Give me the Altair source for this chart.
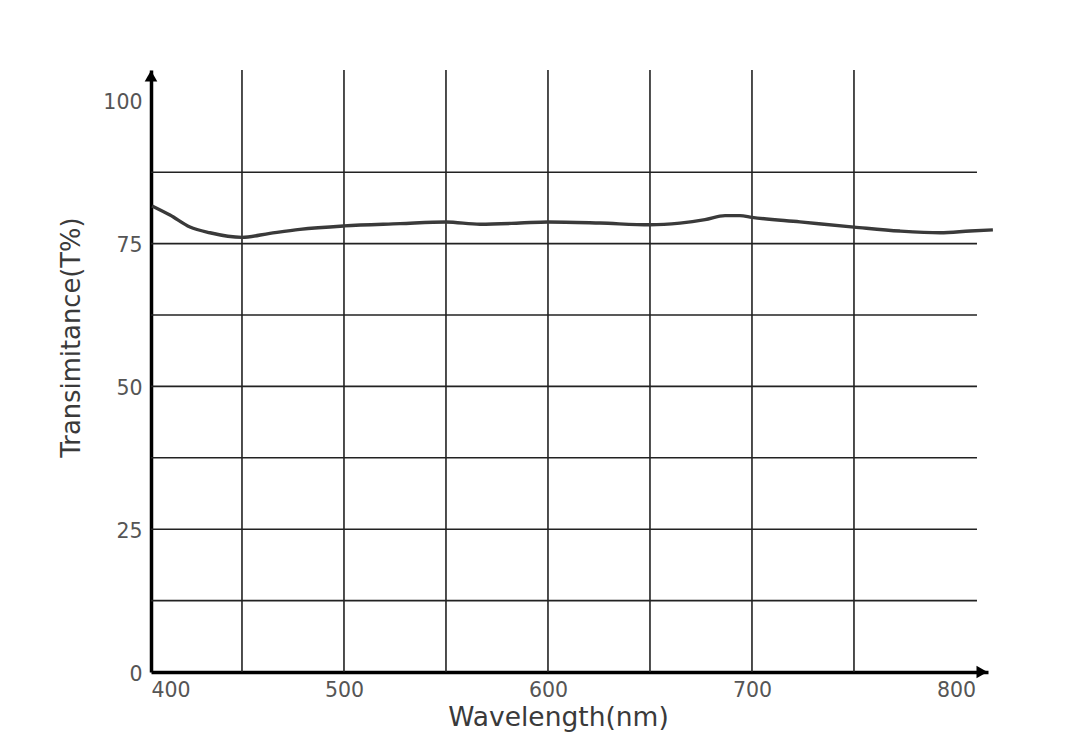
import altair as alt
import pandas as pd

# Transmittance curve
wavelength = [405.9, 414.7, 424.5, 434.3, 450.0, 463.7, 478.4, 500.0, 527.5, 550.0,
              566.7, 586.3, 600.0, 625.5, 650.0, 664.7, 677.0, 686.8, 694.1, 700.0,
              723.5, 750.0, 772.5, 792.2, 806.9, 818.1]
transmittance = [81.6, 80.0, 77.9, 76.9, 76.1, 76.8, 77.5, 78.1, 78.5, 78.8,
                 78.4, 78.6, 78.8, 78.6, 78.3, 78.6, 79.2, 79.9, 79.9, 79.6,
                 78.8, 77.9, 77.2, 76.9, 77.2, 77.4]

x_domain = [405.4, 815.7]
y_domain = [0, 105.4]
x_tick_values = [405.4, 500, 600, 700, 800]
x_tick_labels = ["400", "500", "600", "700", "800"]
y_tick_values = [0, 25, 50, 75, 100]
v_grid = [450, 500, 550, 600, 650, 700, 750]
h_grid = [12.5, 25, 37.5, 50, 62.5, 75, 87.5]
h_grid_end = 810.3

FONT = "DejaVu Sans"
curve = pd.DataFrame({"wl": wavelength, "t": transmittance})
vdf = pd.DataFrame({"g": v_grid})
hdf = pd.DataFrame({"g": h_grid})

xs = alt.Scale(domain=x_domain, nice=False, zero=False)
ys = alt.Scale(domain=y_domain, nice=False, zero=False)

label_expr = "datum.value < 450 ? '%s' : datum.label" % x_tick_labels[0]

x_axis = alt.Axis(values=x_tick_values, labelExpr=label_expr, title="Wavelength(nm)",
                  grid=False, ticks=False, domainColor="#000", domainWidth=3.5,
                  labelFont=FONT, labelFontSize=20.5, labelColor="#555", labelPadding=8,
                  labelFlush=True,
                  titleFont=FONT, titleFontSize=26.5, titleFontWeight="normal", titleColor="#3a3a3a",
                  titleX=407, titleY=45, titleBaseline="middle", titleAnchor="start",
                  titleAlign="center")
y_axis = alt.Axis(values=y_tick_values, title="Transimitance(T%)",
                  grid=False, ticks=False, domainColor="#000", domainWidth=3.5,
                  labelFont=FONT, labelFontSize=20.5, labelColor="#555", labelPadding=9,
                  labelOffset=2,
                  titleFont=FONT, titleFontSize=25.8, titleFontWeight="normal", titleColor="#3a3a3a",
                  titleAngle=-90, titleX=-80, titleY=267, titleBaseline="middle",
                  titleAlign="center", titleAnchor="start")

vlines = alt.Chart(vdf).mark_rule(color="#222", strokeWidth=1.6).encode(
    x=alt.X("g:Q", scale=xs, axis=x_axis)
)
hlines = alt.Chart(hdf).mark_rule(color="#222", strokeWidth=1.6).encode(
    y=alt.Y("g:Q", scale=ys, axis=y_axis),
    x=alt.X(datum=x_domain[0], scale=xs, axis=x_axis),
    x2=alt.X2(datum=h_grid_end),
)
line = alt.Chart(curve).mark_line(color="#3a3a3a", strokeWidth=3.4, interpolate="monotone").encode(
    x=alt.X("wl:Q", scale=xs, axis=x_axis),
    y=alt.Y("t:Q", scale=ys, axis=y_axis),
)
arrow_x = alt.Chart(pd.DataFrame({"a": [0]})).mark_point(
    shape="triangle-right", filled=True, color="#000", size=160, opacity=1, xOffset=-6
).encode(x=alt.X(datum=x_domain[1], scale=xs, axis=x_axis),
         y=alt.Y(datum=y_domain[0], scale=ys, axis=y_axis))
arrow_y = alt.Chart(pd.DataFrame({"a": [0]})).mark_point(
    shape="triangle-up", filled=True, color="#000", size=160, opacity=1, yOffset=6
).encode(x=alt.X(datum=x_domain[0], scale=xs, axis=x_axis),
         y=alt.Y(datum=y_domain[1], scale=ys, axis=y_axis))

chart = alt.layer(vlines, hlines, line, arrow_x, arrow_y).properties(
    width=837, height=602,
    autosize=alt.AutoSizeParams(type="none"),
    padding={"left": 143, "top": 62, "right": 60, "bottom": 70},
    background="white",
).configure_view(stroke=None)

chart.save("out.html", embed_options={"renderer": "svg", "actions": False})
